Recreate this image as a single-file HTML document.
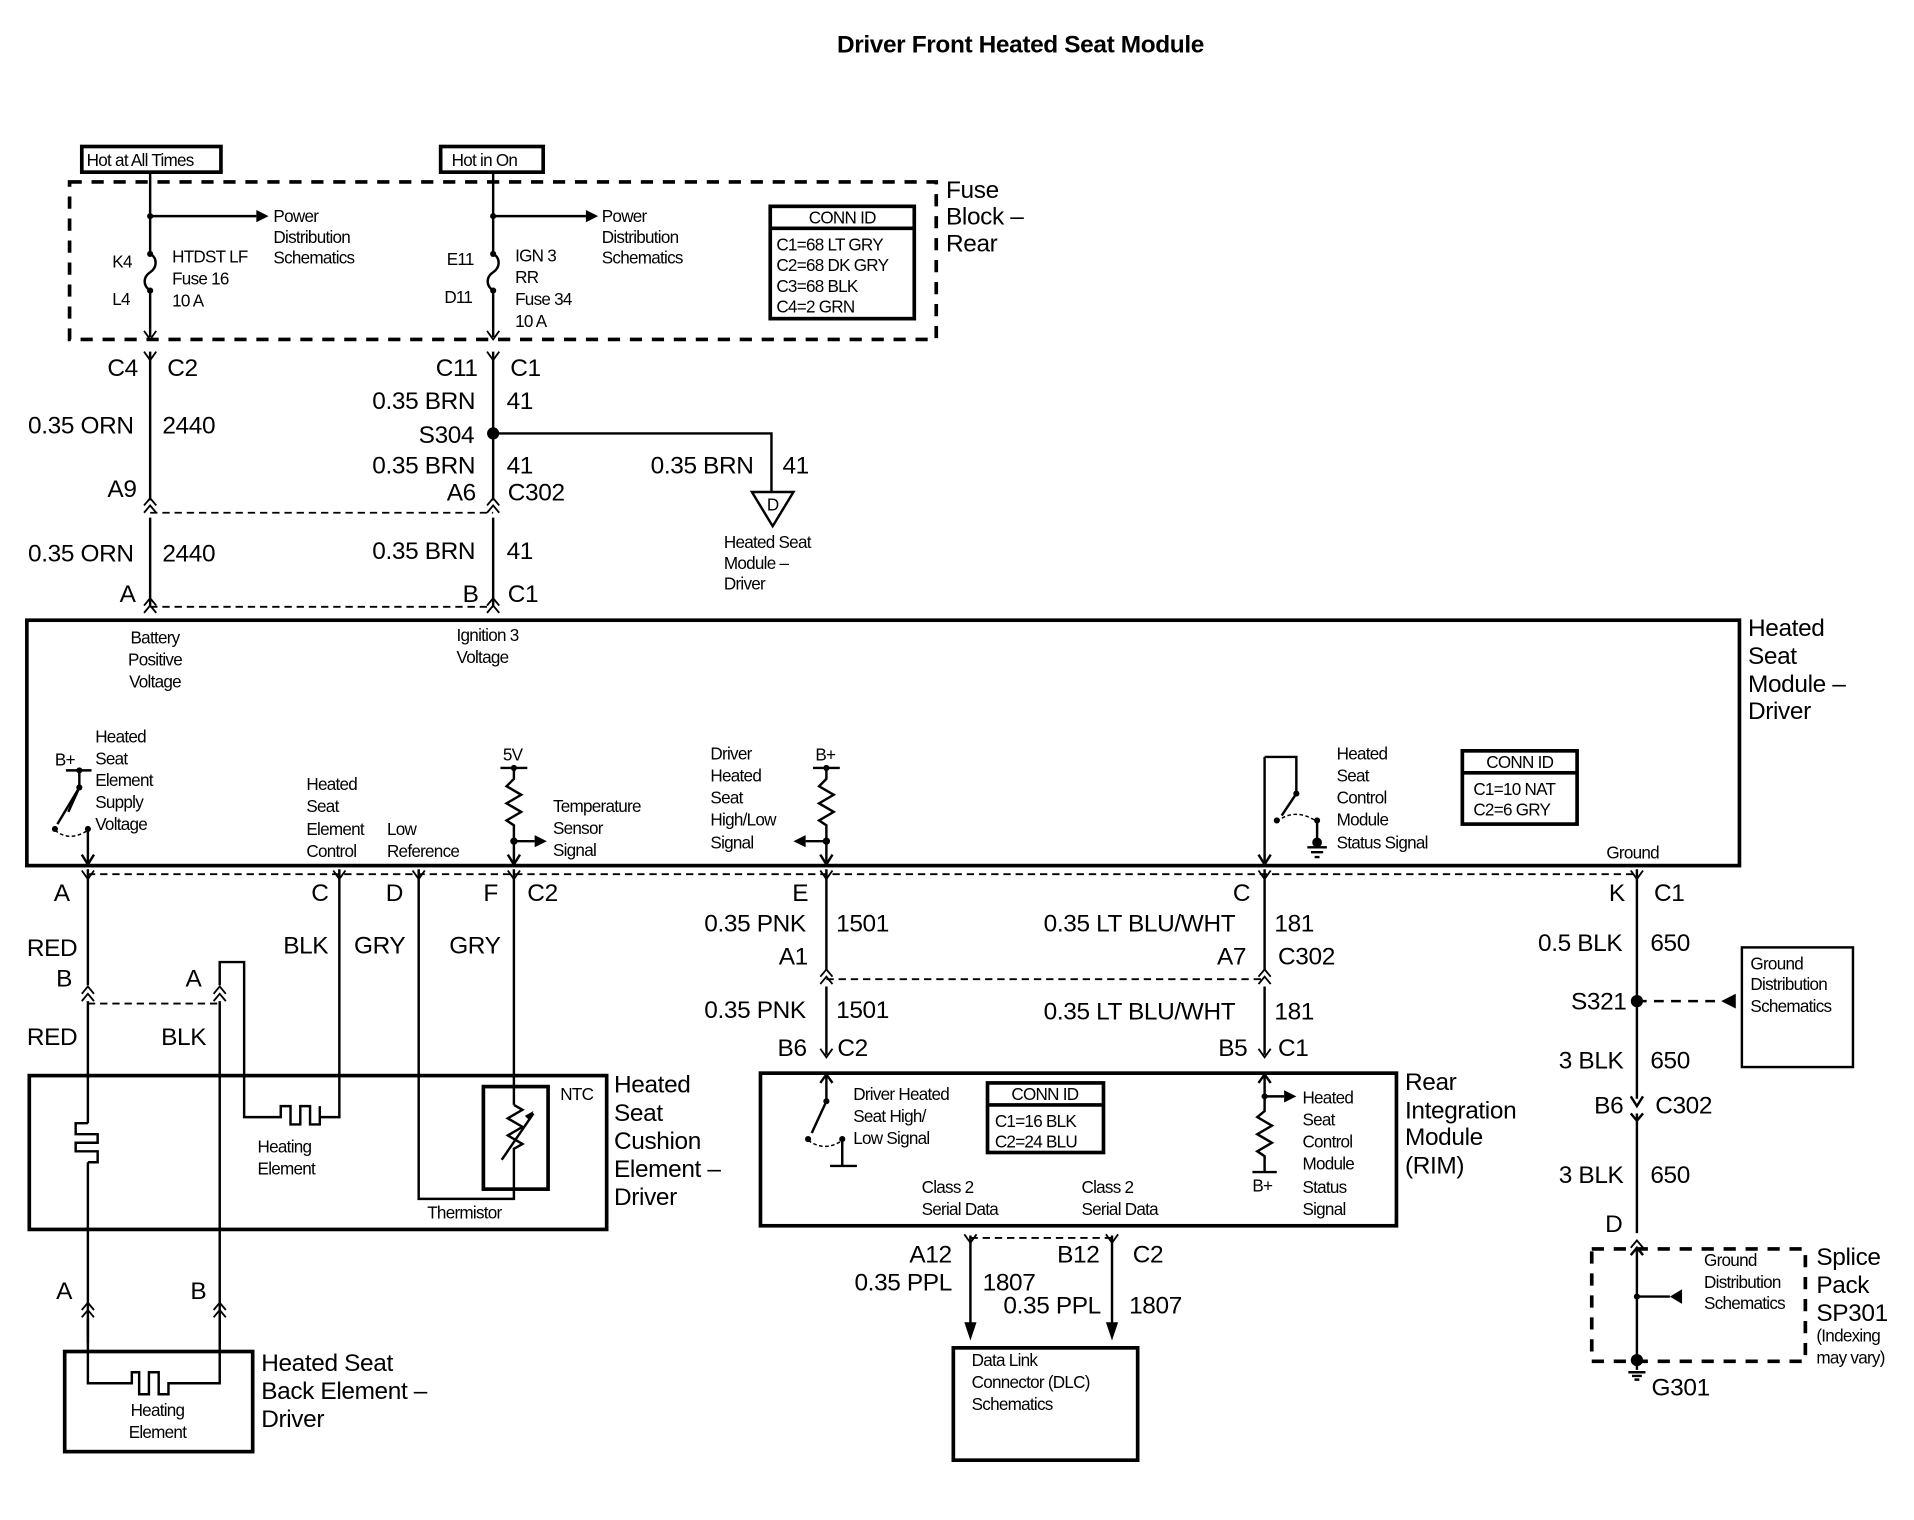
<!DOCTYPE html>
<html><head><meta charset="utf-8"><style>
html,body{margin:0;padding:0;background:#fff;}
svg{display:block;}
text{font-family:"Liberation Sans",Arial,sans-serif;fill:#000;}
.s{font-size:14px;letter-spacing:-0.6px;}
.m{font-size:19px;letter-spacing:-0.4px;}
.l{font-size:20px;letter-spacing:-0.3px;}
.w{stroke:#000;stroke-width:2;fill:none;}
.t{stroke:#000;stroke-width:3;fill:none;}
.d{stroke:#000;stroke-width:1.5;fill:none;stroke-dasharray:6,4;}
.dd{stroke:#000;stroke-width:3;fill:none;stroke-dasharray:10,8;}
</style></head><body>
<svg width="1914" height="1520" viewBox="0 0 1568 1245" preserveAspectRatio="none" xmlns="http://www.w3.org/2000/svg">
<defs>
<path id="cy" d="M-5,-7 L0,0 L5,-7" stroke="#000" stroke-width="1.5" fill="none"/>
<path id="cu" d="M-5,6 L0,0 L5,6 M-5,12 L0,6 L5,12" stroke="#000" stroke-width="1.5" fill="none"/>
<path id="ah" d="M0,0 L-10,-5 L-10,5 Z" fill="#000"/>
</defs>
<text x="836" y="43" class="l" font-weight="bold" text-anchor="middle">Driver Front Heated Seat Module</text>

<!-- Fuse block -->
<rect x="67" y="120" width="114" height="21" class="t"/>
<text x="71" y="136" class="s">Hot at All Times</text>
<rect x="361" y="120" width="84" height="21" class="t"/>
<text x="370" y="136" class="s">Hot in On</text>
<rect x="57" y="149" width="710" height="129" class="dd"/>
<text x="775" y="162" class="l">Fuse</text><text x="775" y="184" class="l">Block –</text><text x="775" y="206" class="l">Rear</text>

<path class="w" d="M123,141 V208 M123,238 V276 M404,141 V208 M404,238 V276"/>
<path class="w" d="M123,208 c6,3 6,11 0,15 c-6,4 -6,11 0,15 M404,208 c6,3 6,11 0,15 c-6,4 -6,11 0,15"/>
<circle cx="123" cy="208" r="2.5"/><circle cx="123" cy="238" r="2.5"/>
<circle cx="404" cy="208" r="2.5"/><circle cx="404" cy="238" r="2.5"/>
<circle cx="123" cy="177" r="2.5"/><circle cx="404" cy="177" r="2.5"/>
<path class="w" d="M123,177 H210 M404,177 H480"/>
<use href="#ah" x="220" y="177"/><use href="#ah" x="490" y="177"/>
<text x="224" y="182" class="s">Power</text><text x="224" y="199" class="s">Distribution</text><text x="224" y="216" class="s">Schematics</text>
<text x="493" y="182" class="s">Power</text><text x="493" y="199" class="s">Distribution</text><text x="493" y="216" class="s">Schematics</text>
<text x="92" y="219" class="s">K4</text><text x="92" y="250" class="s">L4</text>
<text x="141" y="215" class="s">HTDST LF</text><text x="141" y="233" class="s">Fuse 16</text><text x="141" y="251" class="s">10 A</text>
<text x="366" y="217" class="s">E11</text><text x="364" y="248" class="s">D11</text>
<text x="422" y="214" class="s">IGN 3</text><text x="422" y="232" class="s">RR</text><text x="422" y="250" class="s">Fuse 34</text><text x="422" y="268" class="s">10 A</text>
<use href="#cy" x="123" y="278"/><use href="#cy" x="404" y="278"/>
<rect x="631" y="169" width="118" height="92" class="t"/>
<line x1="631" y1="187" x2="749" y2="187" class="t"/>
<text x="690" y="183" class="s" text-anchor="middle">CONN ID</text>
<text x="636" y="205" class="s">C1=68 LT GRY</text><text x="636" y="222" class="s">C2=68 DK GRY</text>
<text x="636" y="239" class="s">C3=68 BLK</text><text x="636" y="256" class="s">C4=2 GRN</text>

<!-- upper wiring -->
<use href="#cy" x="123" y="295"/><use href="#cy" x="404" y="295"/>
<path class="w" d="M123,288 V410 M404,288 V410 M123,424 V496 M404,424 V496"/>
<text x="88" y="308" class="l">C4</text><text x="137" y="308" class="l">C2</text>
<text x="357" y="308" class="l">C11</text><text x="418" y="308" class="l">C1</text>
<text x="23" y="355" class="l">0.35 ORN</text><text x="133" y="355" class="l">2440</text>
<text x="305" y="335" class="l">0.35 BRN</text><text x="415" y="335" class="l">41</text>
<text x="343" y="363" class="l">S304</text>
<circle cx="404" cy="355" r="5"/>
<path class="w" d="M404,355 H632 V403"/>
<path class="w" d="M616,403 H650 L633,431 Z"/>
<text x="633" y="418" class="s" text-anchor="middle">D</text>
<text x="533" y="388" class="l">0.35 BRN</text><text x="641" y="388" class="l">41</text>
<text x="593" y="449" class="s">Heated Seat</text><text x="593" y="466" class="s">Module –</text><text x="593" y="483" class="s">Driver</text>
<text x="305" y="388" class="l">0.35 BRN</text><text x="415" y="388" class="l">41</text>
<text x="88" y="407" class="l">A9</text><text x="366" y="410" class="l">A6</text><text x="416" y="410" class="l">C302</text>
<use href="#cu" x="123" y="408"/><use href="#cu" x="404" y="408"/>
<line x1="123" y1="420" x2="404" y2="420" class="d"/>
<text x="23" y="460" class="l">0.35 ORN</text><text x="133" y="460" class="l">2440</text>
<text x="305" y="458" class="l">0.35 BRN</text><text x="415" y="458" class="l">41</text>
<text x="98" y="493" class="l">A</text><text x="379" y="493" class="l">B</text><text x="416" y="493" class="l">C1</text>
<use href="#cu" x="123" y="490"/><use href="#cu" x="404" y="490"/>
<line x1="123" y1="497" x2="404" y2="497" class="d"/>

<!-- module -->
<rect x="22" y="508" width="1403" height="201" class="t"/>
<text x="1432" y="521" class="l">Heated</text><text x="1432" y="544" class="l">Seat</text><text x="1432" y="567" class="l">Module –</text><text x="1432" y="589" class="l">Driver</text>
<text x="127" y="527" class="s" text-anchor="middle">Battery</text><text x="127" y="545" class="s" text-anchor="middle">Positive</text><text x="127" y="563" class="s" text-anchor="middle">Voltage</text>
<text x="374" y="525" class="s">Ignition 3</text><text x="374" y="543" class="s">Voltage</text>

<!-- left switch -->
<text x="45" y="627" class="s">B+</text>
<path class="w" d="M54,631 H75 M65,631 V645 L56,665"/>
<circle cx="65" cy="631" r="2.5"/><circle cx="65" cy="645" r="2.5"/><circle cx="45" cy="679" r="2.5"/><circle cx="72" cy="679" r="2.5"/>
<path class="w" d="M65,645 L47,675"/>
<path d="M45,680 q12,10 27,0" stroke="#000" stroke-width="1.2" fill="none" stroke-dasharray="3,2"/>
<path class="w" d="M72,679 V708"/><path class="w" d="M67,700 L72,708 L77,700"/>
<text x="78" y="608" class="s">Heated</text><text x="78" y="626" class="s">Seat</text><text x="78" y="644" class="s">Element</text><text x="78" y="662" class="s">Supply</text><text x="78" y="680" class="s">Voltage</text>
<text x="251" y="647" class="s">Heated</text><text x="251" y="665" class="s">Seat</text><text x="251" y="684" class="s">Element</text><text x="251" y="702" class="s">Control</text>
<text x="317" y="684" class="s">Low</text><text x="317" y="702" class="s">Reference</text>
<!-- 5V resistor -->
<text x="412" y="623" class="s">5V</text>
<path class="w" d="M410,629 H432 M421,629 V638 l-6,6 l12,7 l-12,7 l12,7 l-12,7 l6,4 V708"/>
<circle cx="421" cy="629" r="2.5"/><circle cx="421" cy="689" r="3"/>
<path class="w" d="M421,689 H438"/><use href="#ah" x="448" y="689"/>
<path class="w" d="M416,700 L421,708 L426,700"/>
<text x="453" y="665" class="s">Temperature</text><text x="453" y="683" class="s">Sensor</text><text x="453" y="701" class="s">Signal</text>
<!-- B+ resistor -->
<text x="582" y="622" class="s">Driver</text><text x="582" y="640" class="s">Heated</text><text x="582" y="658" class="s">Seat</text><text x="582" y="676" class="s">High/Low</text><text x="582" y="695" class="s">Signal</text>
<text x="668" y="623" class="s">B+</text>
<path class="w" d="M666,629 H688 M677,629 V638 l-6,6 l12,7 l-12,7 l12,7 l-12,7 l6,4 V708"/>
<circle cx="677" cy="629" r="2.5"/><circle cx="677" cy="689" r="3"/>
<path class="w" d="M677,689 H660"/><use href="#ah" x="650" y="689" transform="rotate(180 650 689)"/>
<path class="w" d="M672,700 L677,708 L682,700"/>
<!-- right switch -->
<path class="w" d="M1036,620 V708 M1036,620 H1062 V650 L1050,668"/>
<circle cx="1062" cy="650" r="2.5"/><circle cx="1046" cy="672" r="2.5"/><circle cx="1079" cy="672" r="2.5"/>
<path d="M1046,673 q15,-12 33,0" stroke="#000" stroke-width="1.2" fill="none" stroke-dasharray="3,2"/>
<path class="w" d="M1079,672 V688"/><circle cx="1079" cy="690" r="4"/>
<path class="w" d="M1071,694 H1087 M1074,698 H1084 M1077,702 H1081"/>
<path class="w" d="M1031,700 L1036,708 L1041,700"/>
<text x="1095" y="622" class="s">Heated</text><text x="1095" y="640" class="s">Seat</text><text x="1095" y="658" class="s">Control</text><text x="1095" y="676" class="s">Module</text><text x="1095" y="695" class="s">Status Signal</text>
<rect x="1198" y="615" width="94" height="60" class="t"/><line x1="1198" y1="633" x2="1292" y2="633" class="t"/>
<text x="1245" y="629" class="s" text-anchor="middle">CONN ID</text>
<text x="1207" y="651" class="s">C1=10 NAT</text><text x="1207" y="668" class="s">C2=6 GRY</text>
<text x="1316" y="703" class="s">Ground</text>

<!-- lower connector row -->
<line x1="72" y1="716" x2="1341" y2="716" class="d"/>
<use href="#cy" x="72" y="720"/><use href="#cy" x="278" y="720"/><use href="#cy" x="343" y="720"/><use href="#cy" x="421" y="720"/>
<use href="#cy" x="677" y="720"/><use href="#cy" x="1036" y="720"/><use href="#cy" x="1341" y="720"/>
<text x="44" y="738" class="l">A</text><text x="255" y="738" class="l">C</text><text x="316" y="738" class="l">D</text><text x="396" y="738" class="l">F</text><text x="432" y="738" class="l">C2</text>
<text x="649" y="738" class="l">E</text><text x="1010" y="738" class="l">C</text><text x="1318" y="738" class="l">K</text><text x="1355" y="738" class="l">C1</text>

<!-- cushion -->
<text x="22" y="783" class="l">RED</text><text x="232" y="781" class="l">BLK</text><text x="290" y="781" class="l">GRY</text><text x="368" y="781" class="l">GRY</text>
<text x="46" y="808" class="l">B</text><text x="152" y="808" class="l">A</text>
<path class="w" d="M72,712 V807 M72,820 V920 M72,952 V1100 M180,820 V1100 M180,807 V788 H200 V915 H230 V906 H238 V921 H246 V906 H254 V921 H262 V906 H262 V915 H278 V712"/>
<use href="#cu" x="72" y="808"/><use href="#cu" x="180" y="808"/>
<line x1="72" y1="822" x2="180" y2="822" class="d"/>
<text x="22" y="856" class="l">RED</text><text x="132" y="856" class="l">BLK</text>
<rect x="24" y="881" width="473" height="126" class="t"/>
<text x="503" y="895" class="l">Heated</text><text x="503" y="918" class="l">Seat</text><text x="503" y="941" class="l">Cushion</text><text x="503" y="964" class="l">Element –</text><text x="503" y="987" class="l">Driver</text>
<path class="w" d="M72,920 H62 V929 H80 V936 H62 V943 H80 V952 H72"/>
<text x="211" y="944" class="s">Heating</text><text x="211" y="962" class="s">Element</text>
<path class="w" d="M343,712 V982 H421 V962 M421,712 V905"/>
<rect x="396" y="890" width="53" height="84" class="t"/>
<path class="w" d="M421,905 l7,4 l-12,7 l12,7 l-12,7 l12,7 l-7,4 V962 M411,950 L437,912"/>
<path d="M437,910 L430,914 L434,918 Z" fill="#000"/>
<text x="459" y="901" class="s">NTC</text>
<text x="350" y="998" class="s">Thermistor</text>
<text x="46" y="1064" class="l">A</text><text x="156" y="1064" class="l">B</text>
<use href="#cu" x="72" y="1067"/><use href="#cu" x="180" y="1067"/>
<path class="w" d="M72,1080 V1133 H108 V1124 H114 V1142 H122 V1124 H130 V1142 H138 V1133 H180 V1080"/>
<rect x="53" y="1107" width="154" height="82" class="t"/>
<text x="129" y="1160" class="s" text-anchor="middle">Heating</text><text x="129" y="1178" class="s" text-anchor="middle">Element</text>
<text x="214" y="1123" class="l">Heated Seat</text><text x="214" y="1146" class="l">Back Element –</text><text x="214" y="1169" class="l">Driver</text>

<!-- RIM wiring -->
<path class="w" d="M677,712 V795 M677,808 V864 M1036,712 V795 M1036,808 V864"/>
<text x="577" y="763" class="l">0.35 PNK</text><text x="685" y="763" class="l">1501</text>
<text x="855" y="763" class="l">0.35 LT BLU/WHT</text><text x="1044" y="763" class="l">181</text>
<text x="638" y="790" class="l">A1</text><text x="997" y="790" class="l">A7</text><text x="1047" y="790" class="l">C302</text>
<use href="#cu" x="677" y="794"/><use href="#cu" x="1036" y="794"/>
<line x1="677" y1="802" x2="1036" y2="802" class="d"/>
<text x="577" y="834" class="l">0.35 PNK</text><text x="685" y="834" class="l">1501</text>
<text x="855" y="835" class="l">0.35 LT BLU/WHT</text><text x="1044" y="835" class="l">181</text>
<text x="637" y="865" class="l">B6</text><text x="686" y="865" class="l">C2</text><text x="998" y="865" class="l">B5</text><text x="1047" y="865" class="l">C1</text>
<use href="#cy" x="677" y="866"/><use href="#cy" x="1036" y="866"/>
<rect x="623" y="879" width="521" height="125" class="t"/>
<text x="1151" y="893" class="l">Rear</text><text x="1151" y="916" class="l">Integration</text><text x="1151" y="938" class="l">Module</text><text x="1151" y="961" class="l">(RIM)</text>
<path class="w" d="M677,880 V902 L665,928 M672,887 L677,880 L682,887"/>
<circle cx="677" cy="902" r="2.5"/><circle cx="662" cy="933" r="2.5"/><circle cx="690" cy="933" r="2.5"/>
<path d="M662,934 q14,10 28,0" stroke="#000" stroke-width="1.2" fill="none" stroke-dasharray="3,2"/>
<path class="w" d="M690,933 V955 M680,955 H702"/>
<text x="699" y="901" class="s">Driver Heated</text><text x="699" y="919" class="s">Seat High/</text><text x="699" y="937" class="s">Low Signal</text>
<rect x="809" y="887" width="95" height="57" class="t"/><line x1="809" y1="905" x2="904" y2="905" class="t"/>
<text x="856" y="901" class="s" text-anchor="middle">CONN ID</text>
<text x="815" y="923" class="s">C1=16 BLK</text><text x="815" y="940" class="s">C2=24 BLU</text>
<path class="w" d="M1036,880 V910 l-6,5 l12,7 l-12,7 l12,7 l-12,7 l6,4 V960 M1026,960 H1046 M1031,887 L1036,880 L1041,887 M1036,898 H1052"/>
<circle cx="1036" cy="898" r="2.5"/><use href="#ah" x="1062" y="898"/>
<text x="1026" y="976" class="s">B+</text>
<text x="1067" y="904" class="s">Heated</text><text x="1067" y="922" class="s">Seat</text><text x="1067" y="940" class="s">Control</text><text x="1067" y="958" class="s">Module</text><text x="1067" y="977" class="s">Status</text><text x="1067" y="995" class="s">Signal</text>
<text x="755" y="977" class="s">Class 2</text><text x="755" y="995" class="s">Serial Data</text>
<text x="886" y="977" class="s">Class 2</text><text x="886" y="995" class="s">Serial Data</text>
<line x1="795" y1="1014" x2="911" y2="1014" class="d"/>
<use href="#cy" x="795" y="1018"/><use href="#cy" x="911" y="1018"/>
<path class="w" d="M795,1012 V1085 M911,1012 V1085"/>
<path d="M790,1083 L800,1083 L795,1098 Z M906,1083 L916,1083 L911,1098 Z" fill="#000"/>
<text x="745" y="1034" class="l">A12</text><text x="866" y="1034" class="l">B12</text><text x="928" y="1034" class="l">C2</text>
<text x="700" y="1057" class="l">0.35 PPL</text><text x="805" y="1057" class="l">1807</text>
<text x="822" y="1076" class="l">0.35 PPL</text><text x="925" y="1076" class="l">1807</text>
<rect x="781" y="1104" width="151" height="92" class="t"/>
<text x="796" y="1119" class="s">Data Link</text><text x="796" y="1137" class="s">Connector (DLC)</text><text x="796" y="1155" class="s">Schematics</text>

<!-- ground -->
<path class="w" d="M1341,712 V900 M1341,912 V1010 M1341,1022 V1114"/>
<text x="1260" y="779" class="l">0.5 BLK</text><text x="1352" y="779" class="l">650</text>
<text x="1287" y="827" class="l">S321</text>
<circle cx="1341" cy="820" r="5"/>
<line x1="1341" y1="820" x2="1410" y2="820" class="d" style="stroke-width:2;stroke-dasharray:8,6"/>
<path d="M1410,820 L1422,814 L1422,826 Z" fill="#000"/>
<rect x="1427" y="776" width="91" height="98" class="w"/>
<text x="1434" y="794" class="s">Ground</text><text x="1434" y="811" class="s">Distribution</text><text x="1434" y="829" class="s">Schematics</text>
<text x="1277" y="875" class="l">3 BLK</text><text x="1352" y="875" class="l">650</text>
<text x="1306" y="912" class="l">B6</text><text x="1356" y="912" class="l">C302</text>
<path class="w" d="M1336,898 L1341,906 L1346,898 M1336,912 L1341,918 L1346,912"/>
<text x="1277" y="969" class="l">3 BLK</text><text x="1352" y="969" class="l">650</text>
<text x="1315" y="1009" class="l">D</text>
<use href="#cu" x="1341" y="1016"/>
<rect x="1304" y="1023" width="175" height="92" class="dd"/>
<path class="w" d="M1336,1028 L1341,1022 L1346,1028"/>
<circle cx="1341" cy="1062" r="2.5"/>
<path class="w" d="M1341,1062 H1368"/><path d="M1368,1062 L1378,1056 L1378,1068 Z" fill="#000"/>
<text x="1396" y="1037" class="s">Ground</text><text x="1396" y="1055" class="s">Distribution</text><text x="1396" y="1072" class="s">Schematics</text>
<circle cx="1341" cy="1114" r="5"/>
<path class="w" d="M1341,1114 V1122 M1334,1124 H1348 M1337,1127 H1345 M1339,1130 H1343"/>
<text x="1353" y="1143" class="l">G301</text>
<text x="1488" y="1036" class="l">Splice</text><text x="1488" y="1059" class="l">Pack</text><text x="1488" y="1082" class="l">SP301</text>
<text x="1488" y="1099" class="s">(Indexing</text><text x="1488" y="1117" class="s">may vary)</text>
</svg>
</body></html>
